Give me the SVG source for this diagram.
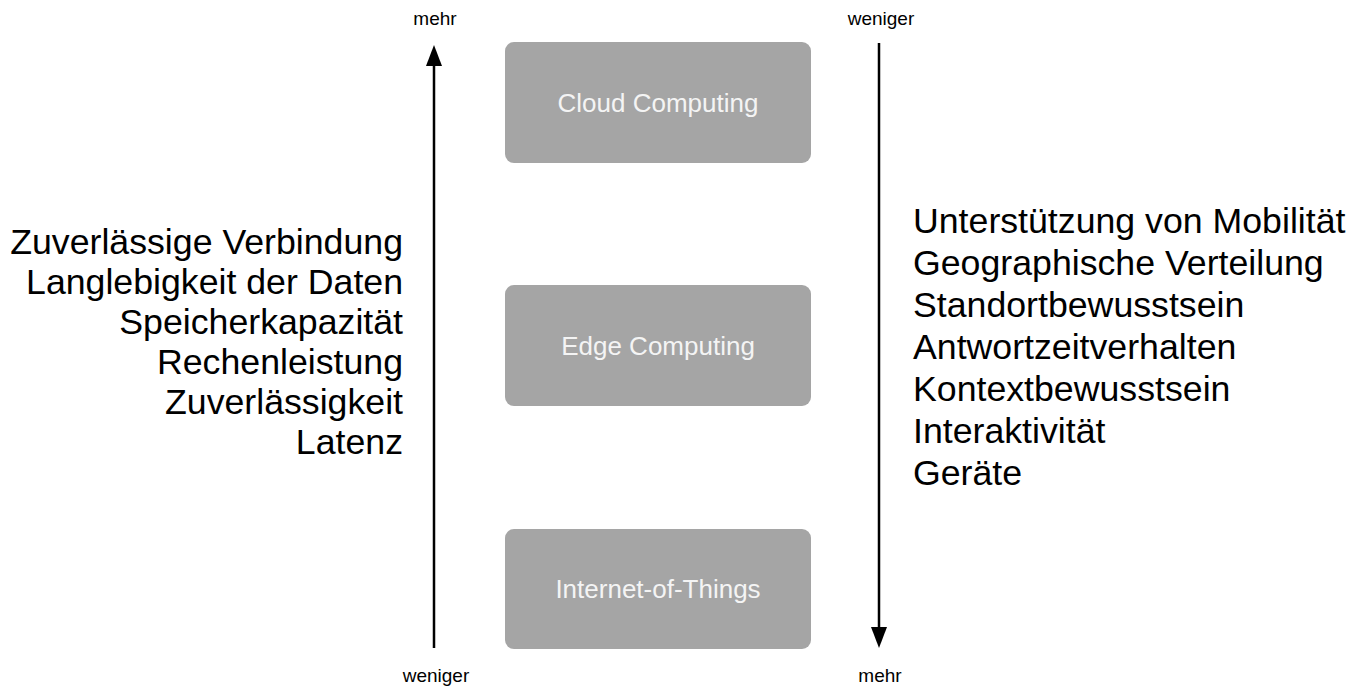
<svg xmlns="http://www.w3.org/2000/svg" width="1366" height="689" viewBox="0 0 1366 689">
<style>
.box{fill:#a5a5a5;}
.bt{font-family:"Liberation Sans",Arial,sans-serif;font-size:26px;fill:#f4f4f4;text-anchor:middle;dominant-baseline:central;}
.sm{font-family:"Liberation Sans",Arial,sans-serif;font-size:19px;fill:#000;text-anchor:middle;}
.big{font-family:"Liberation Sans",Arial,sans-serif;font-size:35.7px;fill:#000;}
.ax{stroke:#000;stroke-width:2.5;fill:none;}
</style>
<rect width="1366" height="689" fill="#fff"/>
<g id="connectors">
<line class="ax" x1="434" y1="648" x2="434" y2="66"/>
<path d="M426,66 L434,45 L442,66 Z" fill="#000"/>
<line class="ax" x1="879" y1="43" x2="879" y2="627"/>
<path d="M871,627 L879,648 L887,627 Z" fill="#000"/>
</g>
<g id="cloud">
<rect class="box" x="505" y="42" width="306" height="121" rx="9"/>
<text class="bt" x="658" y="102.5">Cloud Computing</text>
</g>
<g id="edge">
<rect class="box" x="505" y="285" width="306" height="121" rx="9"/>
<text class="bt" x="658" y="345.5">Edge Computing</text>
</g>
<g id="iot">
<rect class="box" x="505" y="529" width="306" height="120" rx="9"/>
<text class="bt" x="658" y="589">Internet-of-Things</text>
</g>
<g id="axis-labels">
<text class="sm" x="435" y="25">mehr</text>
<text class="sm" x="436" y="682">weniger</text>
<text class="sm" x="881" y="25">weniger</text>
<text class="sm" x="880" y="682">mehr</text>
</g>
<g id="left-list">
<text class="big" x="403" y="254" text-anchor="end">Zuverlässige Verbindung</text>
<text class="big" x="403" y="294" text-anchor="end">Langlebigkeit der Daten</text>
<text class="big" x="403" y="334" text-anchor="end">Speicherkapazität</text>
<text class="big" x="403" y="374" text-anchor="end">Rechenleistung</text>
<text class="big" x="403" y="414" text-anchor="end">Zuverlässigkeit</text>
<text class="big" x="403" y="454" text-anchor="end">Latenz</text>
</g>
<g id="right-list">
<text class="big" x="913" y="233">Unterstützung von Mobilität</text>
<text class="big" x="913" y="275">Geographische Verteilung</text>
<text class="big" x="913" y="317">Standortbewusstsein</text>
<text class="big" x="913" y="359">Antwortzeitverhalten</text>
<text class="big" x="913" y="401">Kontextbewusstsein</text>
<text class="big" x="913" y="443">Interaktivität</text>
<text class="big" x="913" y="485">Geräte</text>
</g>
</svg>
